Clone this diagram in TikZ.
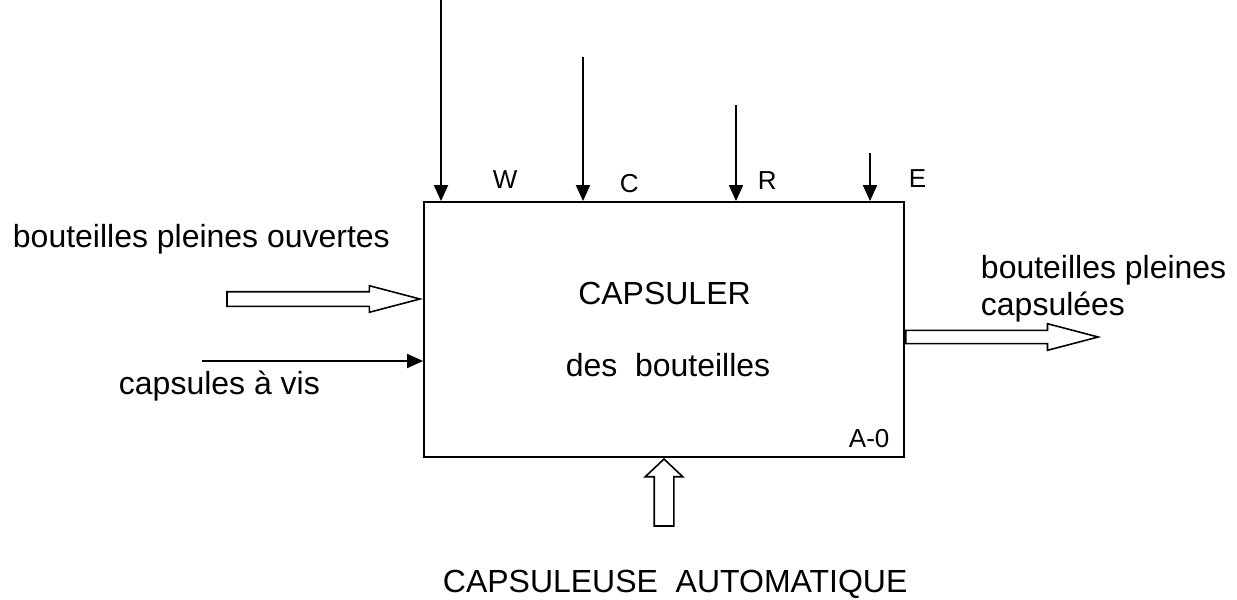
\documentclass[tikz,border=0pt]{standalone}
\usepackage{fontspec}
\setmainfont{Liberation Sans}
\usetikzlibrary{arrows.meta,shapes.arrows}

\begin{document}
\begin{tikzpicture}[x=0.02cm,y=-0.02cm,line width=1.1pt,>={Triangle[length=0.32cm,width=0.28cm]},
  boite/.style={draw,line width=1.1pt,minimum width=9.6cm,minimum height=5.1cm,inner sep=0},
  flux/.style={->},
  creux/.style={draw,single arrow,line width=0.9pt,inner sep=0,single arrow head indent=0},
  lbl/.style={inner sep=0,font=\fontsize{18.2}{21}\selectfont},
  petit/.style={inner sep=0,font=\fontsize{14.8}{17}\selectfont}]
\useasboundingbox (0,0) rectangle (1237,599);
% ================ boite A-0 ================
\node[boite] (capsuler) at (664,329.5) {};
\node[lbl,anchor=base] (titre) at (664.5,304) {CAPSULER};
\node[lbl,anchor=base] (soustitre) at (668,376) {des\ \ bouteilles};
\node[petit,anchor=base west] (numero) at (848,447) {A-0};
% ================ controles (haut) ================
\coordinate (w) at (441,0);
\coordinate (c) at (583,57);
\coordinate (r) at (736,105);
\coordinate (e) at (870,153);
\foreach \k in {w,c,r,e}{\draw[flux] (\k) -- (\k |- capsuler.north);}
\node[petit,anchor=base west] (lblw) at (492,188) {W};
\node[petit,anchor=base west] (lblc) at (619,192) {C};
\node[petit,anchor=base west] (lblr) at (757,189) {R};
\node[petit,anchor=base west] (lble) at (908,187) {E};
% ================ entrees (gauche) ================
\node[creux,inner ysep=0.13cm,single arrow head extend=0.12cm,minimum height=3.86cm,
  single arrow tip angle=29.4,anchor=tip] (entree) at (capsuler.west |- 0,299) {};
\node[lbl,anchor=base west] (lblentree) at (12,247) {bouteilles pleines ouvertes};
\coordinate (vis) at (202,361);
\draw[flux] (vis) -- (vis -| capsuler.west);
\node[lbl,anchor=base west] (lblvis) at (118,394) {capsules à vis};
% ================ sortie (droite) ================
\node[creux,inner ysep=0.116cm,single arrow head extend=0.134cm,minimum height=3.85cm,
  single arrow tip angle=29.4,anchor=tail] (sortie) at (capsuler.east |- 0,337) {};
\node[lbl,align=left,anchor=base west] (lblsortie) at (980,315) {bouteilles pleines\\capsulées};
% ================ mecanisme (bas) ================
\node[creux,inner ysep=0.18cm,single arrow head extend=0.18cm,minimum height=1.34cm,
  single arrow tip angle=93.4,rotate=90,anchor=tip] (mecanisme) at (capsuler.south) {};
\node[lbl,anchor=base west] (lblmeca) at (442,592) {CAPSULEUSE\ \ AUTOMATIQUE};
\end{tikzpicture}
\end{document}
